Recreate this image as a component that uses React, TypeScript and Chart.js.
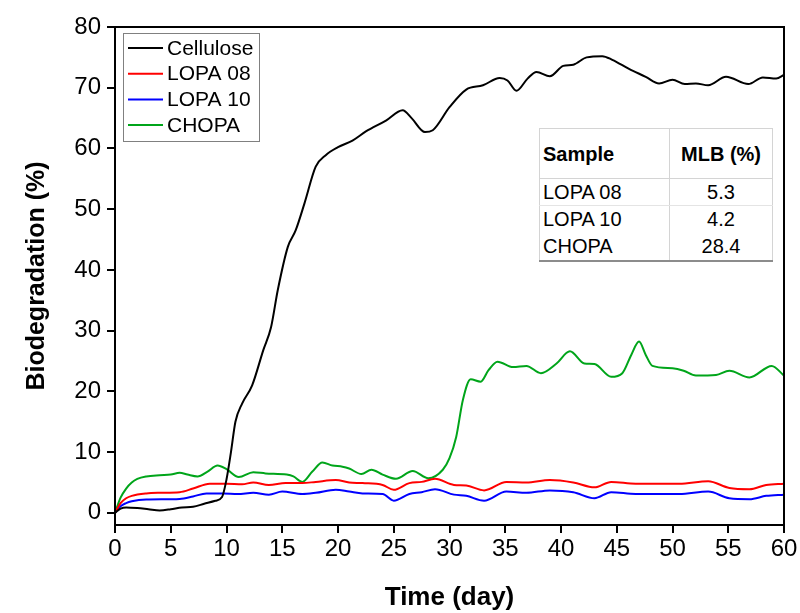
import React, { useEffect, useRef } from "react";
import { Chart, registerables } from "chart.js";

Chart.register(...registerables);

const xTicks = [0, 5, 10, 15, 20, 25, 30, 35, 40, 45, 50, 55, 60];
const yTicks = [0, 10, 20, 30, 40, 50, 60, 70, 80];

const seriesNames = ["Cellulose", "LOPA 08", "LOPA 10", "CHOPA"];
const seriesColors = ["#000000", "#ff0000", "#0000ff", "#00a51a"];

const celluloseDays = [0, 0.5, 1, 2, 3, 4, 5, 6, 7, 8, 9, 9.6, 10, 10.4, 10.8, 11.4, 12.3, 13.3, 14, 14.6, 15.5, 16.2, 17, 18, 18.9, 20, 21.3, 22.5, 24.3, 25.8, 26.6, 27.8, 28.5, 30, 31.5, 33, 34.5, 35.2, 36, 37, 37.8, 39, 40.2, 41.1, 42.3, 43.7, 44.6, 46.1, 47.6, 48.8, 50, 51.1, 52.1, 53.2, 54.8, 56.8, 58.1, 59.3, 60];
const celluloseValues = [0, 0.7, 0.9, 0.8, 0.6, 0.4, 0.6, 0.9, 1.0, 1.5, 2.0, 2.6, 5.5, 10, 15, 18, 21, 26.8, 30.6, 36.7, 43.8, 46.5, 51, 57, 58.9, 60.2, 61.3, 62.8, 64.6, 66.3, 65, 62.7, 63, 66.8, 69.7, 70.4, 71.6, 71.2, 69.5, 71.5, 72.6, 71.9, 73.6, 73.8, 75, 75.2, 74.6, 73.1, 71.8, 70.7, 71.3, 70.6, 70.7, 70.4, 71.8, 70.6, 71.7, 71.5, 72.1];

const lopa08Days = [0, 0.5, 1, 1.5, 2.8, 4, 5.8, 7, 8.5, 10, 11.4, 12.4, 13.8, 15.3, 16.8, 18, 19.8, 21, 22.2, 24, 25, 26.4, 27.5, 28.7, 30.4, 31.5, 33.1, 35.1, 36.9, 39, 41.1, 43, 44.5, 46.7, 50.6, 53.2, 55.1, 56.9, 58.4, 60];
const lopa08Values = [0, 1.6, 2.4, 2.8, 3.2, 3.3, 3.4, 4.0, 4.8, 4.8, 4.7, 5.0, 4.6, 4.9, 4.9, 5.1, 5.4, 5.0, 4.9, 4.6, 3.8, 4.9, 5.1, 5.6, 4.6, 4.5, 3.7, 5.1, 5.0, 5.4, 5.0, 4.2, 5.1, 4.8, 4.8, 5.2, 4.1, 3.9, 4.6, 4.8];

const lopa10Days = [0, 0.5, 1, 1.5, 2.8, 5.8, 7, 8.2, 9.7, 11, 12.4, 13.8, 15, 16.8, 18, 19.8, 21, 22.2, 24, 25, 26.4, 27.5, 28.7, 30.4, 31.5, 33.1, 35.1, 36.9, 39, 41.1, 43, 44.5, 46.7, 50.6, 53.2, 55.1, 56.9, 58.4, 60];
const lopa10Values = [0, 1.1, 1.6, 1.9, 2.2, 2.3, 2.7, 3.2, 3.2, 3.1, 3.3, 3.0, 3.5, 3.1, 3.3, 3.8, 3.5, 3.2, 3.1, 2.0, 3.1, 3.4, 3.9, 3.0, 2.8, 2.0, 3.5, 3.3, 3.7, 3.4, 2.4, 3.4, 3.1, 3.1, 3.5, 2.4, 2.25, 2.8, 3.0];

const chopaDays = [0, 0.5, 1, 1.5, 2, 2.8, 4, 5, 5.8, 6.5, 7.4, 8.3, 9.2, 10, 11.1, 12.4, 13.5, 15.4, 16, 16.8, 17.7, 18.6, 19.5, 20.4, 21, 22.1, 23, 24, 25.2, 26.7, 28.1, 29.4, 30, 30.6, 31.2, 31.9, 32.8, 33.5, 34.3, 35.7, 36.9, 38.2, 39.6, 40.8, 42.1, 43, 44.5, 45.5, 46.3, 47, 47.6, 48.2, 50, 51, 52.1, 53.9, 55.1, 56.9, 58.9, 60];
const chopaValues = [0, 2.5, 4, 5, 5.6, 6.0, 6.2, 6.3, 6.6, 6.3, 6.0, 6.8, 7.8, 7.2, 5.9, 6.7, 6.5, 6.3, 6.0, 5.1, 6.8, 8.3, 7.8, 7.6, 7.3, 6.4, 7.1, 6.3, 5.6, 6.9, 5.7, 7.1, 9, 12.5, 18.6, 22.0, 21.6, 23.5, 24.9, 24.0, 24.2, 23.0, 24.6, 26.6, 24.6, 24.5, 22.4, 23.0, 26, 28.2, 26, 24.2, 23.8, 23.4, 22.6, 22.7, 23.4, 22.3, 24.2, 22.6];

const tableHeader = ["Sample", "MLB (%)"];
const tableSamples = ["LOPA 08", "LOPA 10", "CHOPA"];
const tableMLB = ["5.3", "4.2", "28.4"];

const FONT = "'Liberation Sans', Arial, Helvetica, sans-serif";

const toPoints = (xs: number[], ys: number[]) => xs.map((x, i) => ({ x, y: ys[i] }));

const framePlugin = {
  id: "frame",
  afterDraw(chart: any) {
    const { ctx, chartArea } = chart;
    const { left, top, right, bottom } = chartArea;
    ctx.save();
    ctx.strokeStyle = "#000";
    ctx.lineWidth = 2;
    ctx.strokeRect(left, top, right - left, bottom - top);
    // legend box
    const bx = left + 8;
    const by = top + 6;
    const bw = 136;
    const bh = 108;
    ctx.fillStyle = "#fff";
    ctx.fillRect(bx, by, bw, bh);
    ctx.strokeStyle = "#808080";
    ctx.lineWidth = 1;
    ctx.strokeRect(bx + 0.5, by + 0.5, bw, bh);
    ctx.font = `21px ${FONT}`;
    ctx.textBaseline = "middle";
    ctx.textAlign = "left";
    chart.data.datasets.forEach((ds: any, i: number) => {
      const y = by + 15 + i * 25.7;
      ctx.strokeStyle = ds.borderColor;
      ctx.lineWidth = 2;
      ctx.beginPath();
      ctx.moveTo(bx + 5, y);
      ctx.lineTo(bx + 40, y);
      ctx.stroke();
      ctx.fillStyle = "#000";
      ctx.fillText(ds.label, bx + 44, y + 1);
    });
    ctx.restore();
  },
};

export default function App() {
  const canvasRef = useRef<HTMLCanvasElement | null>(null);

  useEffect(() => {
    const canvas = canvasRef.current;
    if (!canvas) return;
    const xsList = [celluloseDays, lopa08Days, lopa10Days, chopaDays];
    const ysList = [celluloseValues, lopa08Values, lopa10Values, chopaValues];
    const chart = new Chart(canvas, {
      type: "line",
      data: {
        datasets: seriesNames.map((name, i) => ({
          label: name,
          data: toPoints(xsList[i], ysList[i]),
          borderColor: seriesColors[i],
          backgroundColor: seriesColors[i],
          borderWidth: 2,
          pointRadius: 0,
          cubicInterpolationMode: "monotone" as const,
          fill: false,
        })),
      },
      options: {
        animation: false,
        responsive: false,
        devicePixelRatio: 1,
        layout: { padding: { top: 27, right: 16, left: 0, bottom: 0 } },
        plugins: {
          legend: { display: false },
          tooltip: { enabled: false },
        },
        scales: {
          x: {
            type: "linear",
            min: 0,
            max: 60,
            afterFit: (scale: any) => {
              scale.height = 88;
            },
            afterBuildTicks: (scale: any) => {
              scale.ticks = xTicks.map((v) => ({ value: v }));
            },
            ticks: {
              font: { family: FONT, size: 24 },
              color: "#000",
              padding: 2,
              maxRotation: 0,
              autoSkip: false,
            },
            grid: {
              drawOnChartArea: false,
              drawTicks: true,
              tickLength: 8,
              color: "#000",
              lineWidth: 2,
            },
            border: { display: true, color: "#000", width: 2 },
            title: {
              display: true,
              text: "Time (day)",
              font: { family: FONT, size: 26, weight: "bold" },
              color: "#000",
              padding: { top: 0, bottom: 0 },
            },
          },
          y: {
            type: "linear",
            min: -2,
            max: 80,
            afterFit: (scale: any) => {
              scale.width = 115;
            },
            afterBuildTicks: (scale: any) => {
              scale.ticks = yTicks.map((v) => ({ value: v }));
            },
            ticks: {
              font: { family: FONT, size: 24 },
              color: "#000",
              padding: 6,
              autoSkip: false,
            },
            grid: {
              drawOnChartArea: false,
              drawTicks: true,
              tickLength: 8,
              color: "#000",
              lineWidth: 2,
            },
            border: { display: true, color: "#000", width: 2 },
            title: {
              display: true,
              text: "Biodegradation (%)",
              font: { family: FONT, size: 25, weight: "bold" },
              color: "#000",
              padding: { top: 22, bottom: 0 },
            },
          },
        },
      },
      plugins: [framePlugin],
    });
    return () => chart.destroy();
  }, []);

  const cellBase: React.CSSProperties = {
    fontFamily: FONT,
    fontSize: 20,
    color: "#000",
    padding: 0,
    lineHeight: 1,
  };
  const lightLine = "1px solid #d4d4d4";

  return (
    <div style={{ position: "fixed", left: 0, top: 0, width: 800, height: 613, background: "#fff" }}>
      <canvas ref={canvasRef} width={800} height={613} style={{ display: "block" }} />
      <table
        style={{
          position: "absolute",
          left: 539,
          top: 128,
          width: 234,
          borderCollapse: "collapse",
          background: "#fff",
          border: lightLine,
          borderBottom: "2px solid #8c8c8c",
        }}
      >
        <tbody>
          <tr style={{ height: 50 }}>
            <td style={{ ...cellBase, fontWeight: "bold", width: 126, paddingLeft: 3, borderRight: lightLine, borderBottom: lightLine }}>
              {tableHeader[0]}
            </td>
            <td style={{ ...cellBase, fontWeight: "bold", textAlign: "center", borderBottom: lightLine }}>
              {tableHeader[1]}
            </td>
          </tr>
          {tableSamples.map((s, i) => (
            <tr key={s} style={{ height: i === 2 ? 28 : 27 }}>
              <td
                style={{
                  ...cellBase,
                  paddingLeft: 3,
                  borderRight: lightLine,
                  borderBottom: i === 0 ? "1px solid #e4e4e4" : "none",
                }}
              >
                {s}
              </td>
              <td
                style={{
                  ...cellBase,
                  textAlign: "center",
                  borderBottom: i === 0 ? "1px solid #e4e4e4" : "none",
                }}
              >
                {tableMLB[i]}
              </td>
            </tr>
          ))}
        </tbody>
      </table>
    </div>
  );
}
